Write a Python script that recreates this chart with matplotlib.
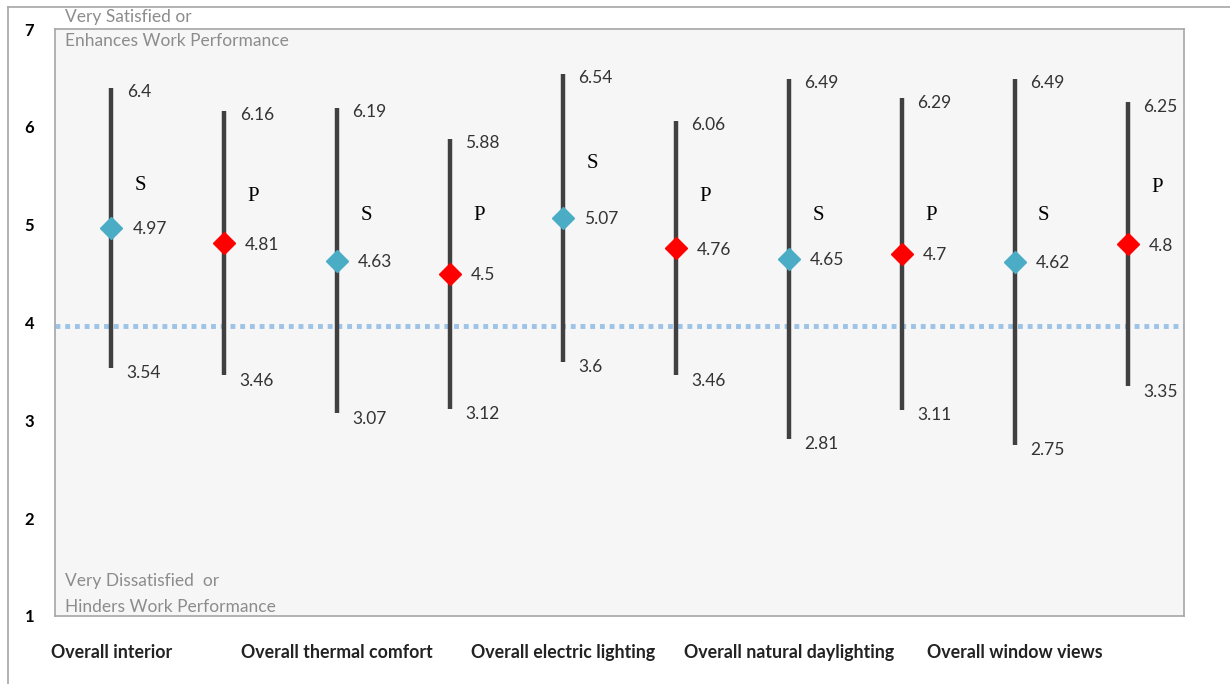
import matplotlib
matplotlib.use("Agg")
import matplotlib.pyplot as plt
from matplotlib.lines import Line2D

# ---- data ----
upper = [6.4, 6.16, 6.19, 5.88, 6.54, 6.06, 6.49, 6.29, 6.49, 6.25]
mean = [4.97, 4.81, 4.63, 4.5, 5.07, 4.76, 4.65, 4.7, 4.62, 4.8]
lower = [3.54, 3.46, 3.07, 3.12, 3.6, 3.46, 2.81, 3.11, 2.75, 3.35]
group = ["S", "P", "S", "P", "S", "P", "S", "P", "S", "P"]
group_label_y = [5.40, 5.29, 5.09, 5.09, 5.63, 5.29, 5.09, 5.09, 5.09, 5.38]
categories = ["Overall interior", "Overall thermal comfort", "Overall electric lighting",
              "Overall natural daylighting", "Overall window views"]
neutral = 3.96
yticks = [1, 2, 3, 4, 5, 6, 7]

colors = {"S": "#4bacc6", "P": "#ff0000"}

fig = plt.figure(figsize=(12.3, 6.84), dpi=100)
fig.patch.set_facecolor("white")
ax = fig.add_axes([55 / 1230, 68 / 684, 1129 / 1230, 587 / 684])
ax.set_facecolor("#f6f6f6")
for s in ax.spines.values():
    s.set_color("#a6a6a6")
    s.set_linewidth(1.2)

x = list(range(len(mean)))
ax.vlines(x, lower, upper, color="#404040", linewidth=3.2, zorder=2)
ax.axhline(neutral, color="#9dc3e6", linewidth=3.5, linestyle=(0, (1, 1)), zorder=1)
tf = dict(fontsize=12.5, color="#333333", family="Lato")
for i in x:
    ax.plot(i, mean[i], marker="D", markersize=11, color=colors[group[i]],
            markeredgecolor=colors[group[i]], zorder=3, linestyle="none")
    ax.annotate(str(upper[i]), (i, upper[i]), xytext=(11, -3), textcoords="offset points",
                ha="left", va="center", **tf)
    ax.annotate(str(mean[i]), (i, mean[i]), xytext=(15, -1), textcoords="offset points",
                ha="left", va="center", **tf)
    ax.annotate(str(lower[i]), (i, lower[i]), xytext=(11, -4), textcoords="offset points",
                ha="left", va="center", **tf)
    ax.annotate(group[i], (i, group_label_y[i]), xytext=(21, 0), textcoords="offset points",
                ha="center", va="center", fontsize=15, color="black", family="Liberation Serif")

ax.set_xlim(-0.5, 9.5)
ax.set_ylim(1, 7)
ax.set_yticks(yticks)
ax.set_yticklabels([str(t) for t in yticks], fontsize=12, fontweight="bold", family="Lato")
ax.tick_params(axis="y", length=0, pad=15)
ax.set_xticks([0, 2, 4, 6, 8])
ax.set_xticklabels(categories, fontsize=12.8, fontweight="bold", family="Lato", color="#222222")
ax.tick_params(axis="x", length=0, pad=20)

gtf = dict(fontsize=12.5, color="#8c8c8c", family="Lato", va="center", ha="left")
ax.text(0.009, 1.0 + 12 / 587, "Very Satisfied or", transform=ax.transAxes, clip_on=False, **gtf)
ax.text(0.009, 1.0 - 12 / 587, "Enhances Work Performance", transform=ax.transAxes, **gtf)
ax.text(0.009, 35 / 587, "Very Dissatisfied  or", transform=ax.transAxes, **gtf)
ax.text(0.009, 9 / 587, "Hinders Work Performance", transform=ax.transAxes, **gtf)

# outer frame
fig.add_artist(Line2D([8 / 1230, 1], [1 - 7 / 684, 1 - 7 / 684], color="#a6a6a6", linewidth=1.2,
                      transform=fig.transFigure))
fig.add_artist(Line2D([8 / 1230, 8 / 1230], [0, 1 - 7 / 684], color="#a6a6a6", linewidth=1.2,
                      transform=fig.transFigure))

fig.savefig("out.png", dpi=100)
